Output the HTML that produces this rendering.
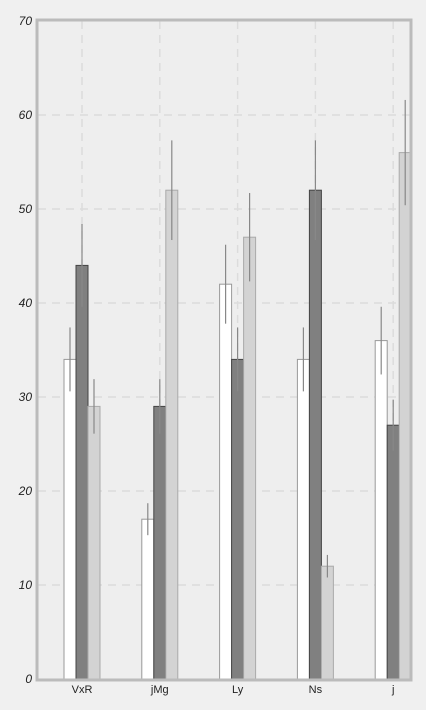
<!DOCTYPE html>
<html><head><meta charset="utf-8"><style>
body{margin:0;background:#f0f0f0;}
svg{display:block;font-family:"Liberation Sans",sans-serif;}
</style></head><body>
<svg id="chart" width="426" height="710" xmlns="http://www.w3.org/2000/svg"></svg>
<script>
const categories=["VxR","jMg","Ly","Ns","j"];
const seriesA=[34,17,42,34,36];
const seriesB=[44,29,34,52,27];
const seriesC=[29,52,47,12,56];
const errA=[3.4,1.7,4.2,3.4,3.6];
const errB=[4.4,2.9,3.4,5.3,2.7];
const errC=[2.9,5.3,4.7,1.2,5.6];
const yTicks=[0,10,20,30,40,50,60,70];
const svg=document.getElementById('chart');
const NS='http://www.w3.org/2000/svg';
const L=38,R=410,T=21,B=679;
const y=v=>B-(v/70)*(B-T);
const xc=i=>82+i*77.8;
function mk(tag,attrs,parent){const e=document.createElementNS(NS,tag);for(const k in attrs)e.setAttribute(k,attrs[k]);(parent||svg).appendChild(e);return e;}
const bg=mk('rect',{x:L,y:T,width:R-L,height:B-T,fill:'#eeeeee'});


yTicks.forEach(t=>{
  if(t>0&&t<70){const g=mk('line',{x1:L,x2:R,y1:y(t),y2:y(t),stroke:'#dcdcdc','stroke-width':1.5,'stroke-dasharray':'8,6'});
  
  }
  const tx=mk('text',{x:32,y:y(t)+4,'text-anchor':'end','font-size':12,fill:'#222','font-style':'italic'});
  tx.textContent=t;
  
  
});
categories.forEach((c,i)=>{
  const g=mk('line',{x1:xc(i),x2:xc(i),y1:T,y2:B,stroke:'#dcdcdc','stroke-width':1.5,'stroke-dasharray':'8,6'});
  
  
  const tx=mk('text',{x:xc(i),y:693,'text-anchor':'middle','font-size':11,fill:'#222'});
  tx.textContent=c;
  
  
});
const series=[[seriesA,errA,'#ffffff','#999999',-18,'bar-series-a'],[seriesB,errB,'#808080','#444444',-6,'bar-series-b'],[seriesC,errC,'#d3d3d3','#aaaaaa',6,'bar-series-c']];
series.forEach(([vals,errs,fill,stroke,off,name])=>{
  vals.forEach((v,i)=>{
    const r=mk('rect',{x:xc(i)+off,y:y(v),width:12,height:B-y(v),fill:fill,stroke:stroke,'stroke-width':1});
    
    
    const e=mk('line',{x1:xc(i)+off+6,x2:xc(i)+off+6,y1:y(v+errs[i]),y2:y(v-errs[i]),stroke:'#888','stroke-width':1.2});
    
    
  });
});
const fr=mk('rect',{x:L-1,y:T-1,width:R-L+2,height:B-T+2,fill:'none',stroke:'#bbbbbb','stroke-width':3});


</script>
</body></html>
